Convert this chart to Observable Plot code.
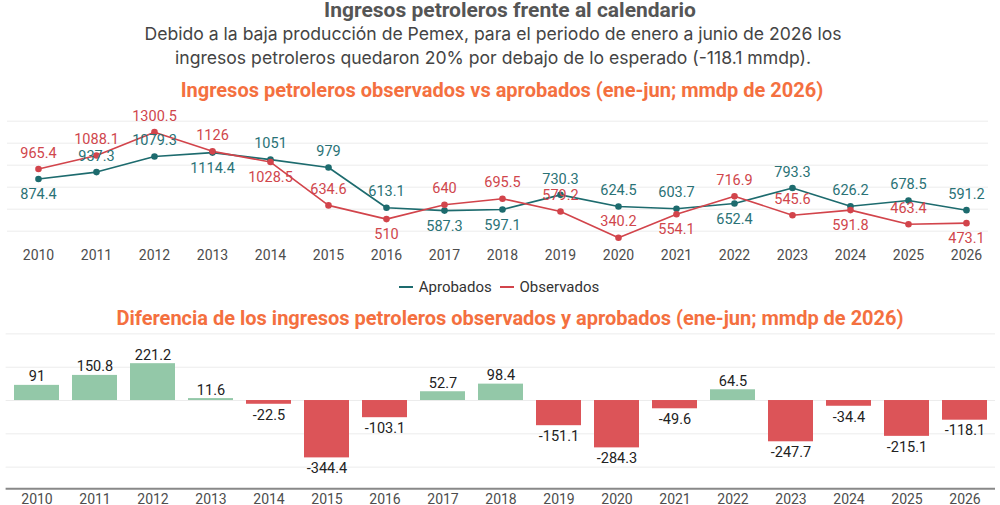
<!DOCTYPE html>
<html>
<head>
<meta charset="utf-8">
<script src="https://cdn.jsdelivr.net/npm/d3@7"></script>
<script src="https://cdn.jsdelivr.net/npm/@observablehq/plot@0.6"></script>
<style>
  html, body { margin: 0; padding: 0; background: #fff; }
  body { width: 1000px; height: 505px; position: relative; overflow: hidden; font-family: Roboto, "Noto Sans", sans-serif; }
  .abs { position: absolute; left: 0; width: 1000px; text-align: center; white-space: nowrap; }
  #title { top: -1px; left: 10px; font-size: 21px; line-height: 22px; font-weight: 700; color: #555; }
  #subtitle { top: 22px; left: -7px; font-size: 17.6px; line-height: 24px; color: #444; font-family: Inter, Roboto, sans-serif; }
  .section { font-size: 20px; line-height: 22px; font-weight: 700; color: #f4703f; }
  #sec1 { top: 79px; left: 2px; }
  #sec2 { top: 307px; left: 10px; }
  #legend { top: 277px; left: -3px; font-size: 15px; line-height: 20px; color: #333; }
  .sw { display: inline-block; width: 14px; height: 2.5px; vertical-align: middle; margin: 0 6px 0 4px; position: relative; top: -1px; }
  #line { position: absolute; top: 100px; left: 0; }
  #bars { position: absolute; top: 325px; left: 0; }
</style>
</head>
<body>
<div id="title" class="abs">Ingresos petroleros frente al calendario</div>
<div id="subtitle" class="abs">Debido a la baja producción de Pemex, para el periodo de enero a junio de 2026 los<br>ingresos petroleros quedaron 20% por debajo de lo esperado (-118.1 mmdp).</div>
<div id="sec1" class="abs section">Ingresos petroleros observados vs aprobados (ene-jun; mmdp de 2026)</div>
<div id="line"></div>
<div id="legend" class="abs"><span class="sw" style="background:#1d6b6e"></span>Aprobados <span class="sw" style="background:#d2444b"></span>Observados</div>
<div id="sec2" class="abs section">Diferencia de los ingresos petroleros observados y aprobados (ene-jun; mmdp de 2026)</div>
<div id="bars"></div>
<script>
// ---- data ----
const years = ["2010","2011","2012","2013","2014","2015","2016","2017","2018","2019","2020","2021","2022","2023","2024","2025","2026"];
const aprobados = [874.4, 937.3, 1079.3, 1114.4, 1051, 979, 613.1, 587.3, 597.1, 730.3, 624.5, 603.7, 652.4, 793.3, 626.2, 678.5, 591.2];
const observados = [965.4, 1088.1, 1300.5, 1126, 1028.5, 634.6, 510, 640, 695.5, 579.2, 340.2, 554.1, 716.9, 545.6, 591.8, 463.4, 473.1];
const diferencia = [91, 150.8, 221.2, 11.6, -22.5, -344.4, -103.1, 52.7, 98.4, -151.1, -284.3, -49.6, 64.5, -247.7, -34.4, -215.1, -118.1];
// label placement relative to the point
const aprobadosLabelPos = ["below","above","above","below","above","above","above","below","below","above","above","above","below","above","above","above","above"];
const observadosLabelPos = ["above","above","above","above","below","above","below","above","above","above","above","below","above","above","below","above","below"];
const lineGridTicks = [400, 600, 800, 1000, 1200, 1400];
const lineDomain = [300, 1400];
const barGridTicks = [-400, -200, 0, 200, 400];
const barDomain = [-530, 400];

const colAprob = "#1d6b6e", colAprobTxt = "#2a7276";
const colObs = "#d2444b", colObsTxt = "#d0464c";
const colPos = "#93c8a8", colNeg = "#dc5458";

const series = [];
years.forEach((y, i) => {
  series.push({year: y, value: aprobados[i], serie: "Aprobados", pos: aprobadosLabelPos[i]});
  series.push({year: y, value: observados[i], serie: "Observados", pos: observadosLabelPos[i]});
});
const bars = years.map((y, i) => ({year: y, diff: diferencia[i]}));
const fmt = v => String(v);
const LF = 14.5;

const lineChart = Plot.plot({
  width: 1000, height: 165,
  marginTop: 20.7, marginBottom: 23.3, marginLeft: 5, marginRight: 2,
  style: {fontFamily: "Roboto, sans-serif", fontSize: "14px", color: "#4d4d4d", fontWeight: 400, background: "transparent", overflow: "visible"},
  x: {type: "point", domain: years, padding: 0.5, tickSize: 0, tickPadding: 8, label: null},
  y: {domain: lineDomain, axis: null},
  marks: [
    Plot.ruleY(lineGridTicks, {stroke: "#ececec", strokeWidth: 1, insetLeft: 2, insetRight: 10}),
    Plot.line(series.filter(d => d.serie === "Aprobados"), {x: "year", y: "value", stroke: colAprob, strokeWidth: 1.6}),
    Plot.line(series.filter(d => d.serie === "Observados"), {x: "year", y: "value", stroke: colObs, strokeWidth: 1.6}),
    Plot.dot(series.filter(d => d.serie === "Aprobados"), {x: "year", y: "value", fill: colAprob, r: 3.3}),
    Plot.dot(series.filter(d => d.serie === "Observados"), {x: "year", y: "value", fill: colObs, r: 3.3}),
    Plot.text(series.filter(d => d.serie === "Aprobados" && d.pos === "above"), {x: "year", y: "value", text: d => fmt(d.value), dy: -16, fill: colAprobTxt, fontSize: LF}),
    Plot.text(series.filter(d => d.serie === "Aprobados" && d.pos === "below"), {x: "year", y: "value", text: d => fmt(d.value), dy: 15.5, fill: colAprobTxt, fontSize: LF}),
    Plot.text(series.filter(d => d.serie === "Observados" && d.pos === "above"), {x: "year", y: "value", text: d => fmt(d.value), dy: -16, fill: colObsTxt, fontSize: LF}),
    Plot.text(series.filter(d => d.serie === "Observados" && d.pos === "below"), {x: "year", y: "value", text: d => fmt(d.value), dy: 15.5, fill: colObsTxt, fontSize: LF})
  ]
});
document.getElementById("line").appendChild(lineChart);

const barChart = Plot.plot({
  width: 1000, height: 180,
  marginTop: 8.4, marginBottom: 16.7, marginLeft: 5.6, marginRight: 5,
  style: {fontFamily: "Roboto, sans-serif", fontSize: "14px", color: "#4d4d4d", fontWeight: 400, background: "transparent", overflow: "visible"},
  x: {type: "band", domain: years, paddingInner: 0.23, paddingOuter: 0.115, tickSize: 0, tickPadding: 5, label: null},
  y: {domain: barDomain, axis: null},
  marks: [
    Plot.ruleY(barGridTicks, {stroke: "#ececec", strokeWidth: 1}),
    Plot.barY(bars.filter(d => d.diff >= 0), {x: "year", y: "diff", fill: colPos}),
    Plot.barY(bars.filter(d => d.diff < 0), {x: "year", y: "diff", fill: colNeg}),
    Plot.ruleY([barDomain[0]], {stroke: "#888", strokeWidth: 2}),
    Plot.text(bars.filter(d => d.diff >= 0), {x: "year", y: "diff", text: d => fmt(d.diff), lineAnchor: "bottom", dy: -4, fill: "#222", fontSize: LF}),
    Plot.text(bars.filter(d => d.diff < 0), {x: "year", y: "diff", text: d => fmt(d.diff), lineAnchor: "top", dy: 5, fill: "#222", fontSize: LF})
  ]
});
document.getElementById("bars").appendChild(barChart);
</script>
</body>
</html>
